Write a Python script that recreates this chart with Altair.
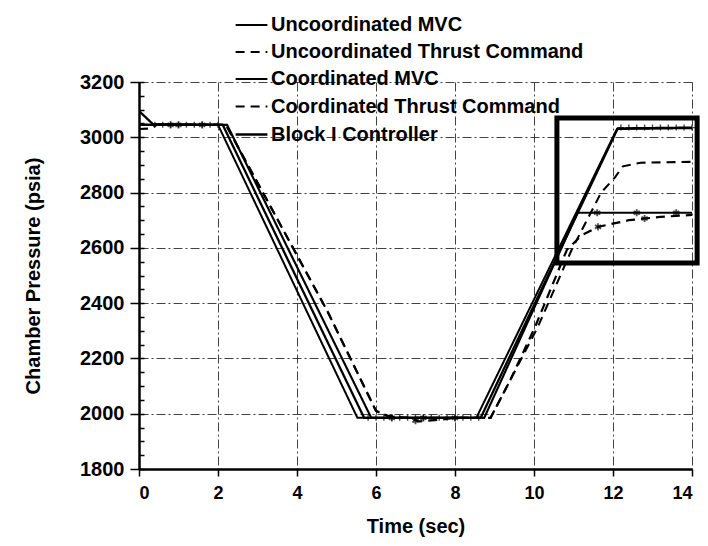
import altair as alt
import pandas as pd

series_names = [
    "Uncoordinated MVC",
    "Uncoordinated Thrust Command",
    "Coordinated MVC",
    "Coordinated Thrust Command",
    "Block I Controller",
]

# Time (sec) / chamber pressure (psia) readings for each curve
unc_mvc_t = [0, 2.0, 5.53, 8.54, 12.1, 14]
unc_mvc_p = [3045, 3045, 1985, 1985, 3030, 3033]

unc_tc_t = [0, 2.2, 3.24, 4.78, 6.0, 6.3, 6.6, 8.9, 9.4, 10.1, 10.95, 11.7, 12.05, 12.25, 12.7, 14]
unc_tc_p = [3045, 3045, 2773, 2368, 2010, 1992, 1985, 1985, 2122, 2315, 2592, 2800, 2855, 2895, 2908, 2911]

coord_mvc_t = [0, 2.23, 5.88, 8.74, 11.1, 14]
coord_mvc_p = [3045, 3045, 1985, 1985, 2727, 2727]

coord_tc_t = [0, 0.3, 0.45, 2.2, 3.24, 4.78, 6.0, 6.3, 6.8, 7.1, 7.6, 8.0, 8.9, 9.4, 10.03, 10.83, 11.2, 11.62, 12.4, 13.2, 14]
coord_tc_p = [3030, 3032, 3045, 3045, 2773, 2368, 2010, 1992, 1985, 1972, 1978, 1985, 1985, 2122, 2315, 2592, 2645, 2676, 2700, 2712, 2719]

block1_t = [0, 0.35, 2.12, 5.70, 8.65, 12.12, 14]
block1_p = [3095, 3048, 3045, 1985, 1985, 3032, 3035]

# marker readings
block1_mark_t = [0.4, 0.6, 0.8, 1.0, 1.2, 1.4, 1.6, 1.8, 2.0,
                 5.8, 6.0, 6.2, 6.4, 6.6, 6.8, 7.0, 7.2, 7.4, 7.6, 7.8, 8.0, 8.2, 8.4, 8.6,
                 12.2, 12.4, 12.6, 12.8, 13.0, 13.2, 13.4, 13.6, 13.8, 14.0]
block1_mark_p = [3045] * 9 + [1985] * 15 + [3035] * 10

coord_mvc_mark_t = [0.8, 1.6, 6.4, 7.2, 8.0, 11.6, 12.6, 13.6]
coord_mvc_mark_p = [3045, 3045, 1985, 1985, 1985, 2727, 2727, 2727]
coord_tc_mark_t = [1.0, 7.0, 11.62, 12.8]
coord_tc_mark_p = [3045, 1975, 2676, 2706]

# zoom box drawn on the figure (time and pressure corners)
box_t = [10.58, 14.13]
box_p = [2545, 3070]

x_ticks = [0, 2, 4, 6, 8, 10, 12, 14]
y_ticks = [1800, 2000, 2200, 2400, 2600, 2800, 3000, 3200]
y_minor = list(range(1800, 3201, 50))

series_t = [unc_mvc_t, unc_tc_t, coord_mvc_t, coord_tc_t, block1_t]
series_p = [unc_mvc_p, unc_tc_p, coord_mvc_p, coord_tc_p, block1_p]

rows = []
for name, ts, ps in zip(series_names, series_t, series_p):
    for i, (t, p) in enumerate(zip(ts, ps)):
        rows.append({"series": name, "t": t, "p": p, "i": i})
df = pd.DataFrame(rows)

plus_df = pd.DataFrame({"t": block1_mark_t, "p": block1_mark_p})
star_df = pd.DataFrame({"t": coord_mvc_mark_t + coord_tc_mark_t,
                        "p": coord_mvc_mark_p + coord_tc_mark_p})
box_df = pd.DataFrame({"t": [box_t[0]], "t2": [box_t[1]], "p": [box_p[0]], "p2": [box_p[1]]})

W, H = 553, 387
FONT = "Liberation Sans"

asterisk = "M0,-1L0,1M-0.87,-0.5L0.87,0.5M-0.87,0.5L0.87,-0.5"
plus = "M0,-1L0,1M-1,0L1,0"

xscale = alt.Scale(domain=[0, 14], nice=False, zero=False)
yscale = alt.Scale(domain=[1800, 3200], nice=False, zero=False)

x_axis = alt.Axis(values=x_ticks, title="Time (sec)", tickSize=7, tickWidth=1.5,
                  labelPadding=8, titlePadding=14, format="d", labelFontSize=18)
y_axis = alt.Axis(values=y_ticks, title="Chamber Pressure (psia)", tickSize=9,
                  tickWidth=1.5, labelPadding=6, titlePadding=36, format="d",
                  labelFontSize=20)

X = alt.X("t:Q", scale=xscale, axis=x_axis)

lines = alt.Chart(df).mark_line(clip=True, color="black").encode(
    x=X,
    y=alt.Y("p:Q", scale=yscale, axis=y_axis),
    detail="series:N",
    strokeDash=alt.StrokeDash(
        "series:N",
        scale=alt.Scale(domain=series_names, range=[[1, 0], [9, 6], [1, 0], [9, 6], [1, 0]]),
        legend=alt.Legend(
            title=None, orient="none", legendX=95, legendY=-74, padding=0,
            symbolType="stroke", symbolSize=1010, symbolStrokeWidth=2,
            symbolStrokeColor="black",
            labelFontSize=20, labelFontWeight="bold", labelFont=FONT,
            labelColor="black", rowPadding=0, labelOffset=2, labelLimit=500,
        ),
    ),
    strokeWidth=alt.StrokeWidth(
        "series:N",
        scale=alt.Scale(domain=series_names, range=[2.0, 2.3, 2.6, 2.3, 2.0]),
        legend=None,
    ),
    order="i:Q",
)

plus_marks = alt.Chart(plus_df).mark_point(
    shape=plus, size=36, color="black", strokeWidth=1.4, filled=False
).encode(
    x=X,
    y=alt.Y("p:Q", scale=yscale, axis=alt.Axis(
        orient="right", offset=-W, values=y_minor, labels=False, domain=False,
        grid=False, ticks=True, tickSize=5, tickWidth=1.5, title=None)),
)

star_marks = alt.Chart(star_df).mark_point(
    shape=asterisk, size=50, color="black", strokeWidth=1.8, filled=False
).encode(x=X, y=alt.Y("p:Q", scale=yscale, axis=None))

box = alt.Chart(box_df).mark_rect(
    filled=False, stroke="black", strokeWidth=5, fillOpacity=0, clip=False
).encode(
    x=X, x2="t2:Q",
    y=alt.Y("p:Q", scale=yscale, axis=None), y2="p2:Q",
)

chart = alt.layer(lines, plus_marks, star_marks, box).resolve_axis(y="independent").properties(
    width=W, height=H,
    autosize=alt.AutoSizeParams(type="none"),
    padding={"left": 131, "top": 74, "right": 8, "bottom": 69},
).configure_view(stroke=None).configure_axis(
    labelFont=FONT, titleFont=FONT, labelFontWeight="bold",
    titleFontSize=20, titleFontWeight="bold", labelColor="black", titleColor="black",
    domainColor="black", domainWidth=2.5, tickColor="black",
    gridColor="#222222", gridDash=[9, 3, 2, 3], gridWidth=1, gridOpacity=0.85,
)

chart.save("out.html", embed_options={"renderer": "svg", "actions": False})
